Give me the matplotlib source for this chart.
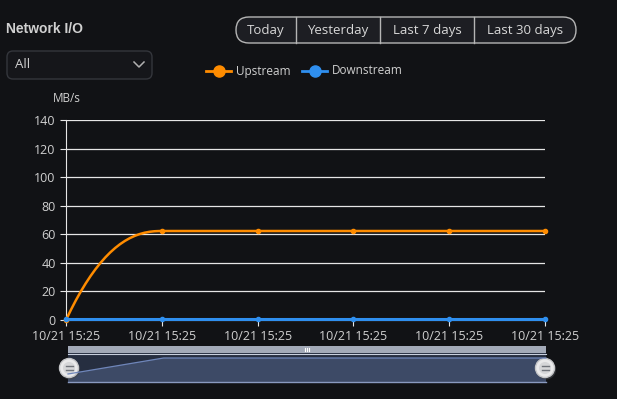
import numpy as np
import matplotlib.pyplot as plt
from matplotlib.patches import FancyBboxPatch, Rectangle, Circle, Polygon

plt.rcParams['font.family'] = ['Open Sans', 'DejaVu Sans']

### data ###
times = ["10/21 15:25"] * 6
upstream = [0, 62.3, 62.3, 62.3, 62.3, 62.3]
downstream = [0.5, 0.5, 0.5, 0.5, 0.5, 0.5]
yticks = [0, 20, 40, 60, 80, 100, 120, 140]
ranges = ["Today", "Yesterday", "Last 7 days", "Last 30 days"]

BG = "#111215"
TXT = "#d0d0d0"
ORANGE = "#ff8c00"
BLUE = "#2f8fef"
W, H = 617, 399


def smooth(vals, n=40):
    # curve between points like the web chart does (eased, flat where equal)
    xs, ys = [0.0], [vals[0]]
    for i in range(len(vals) - 1):
        f = np.linspace(0, 1, n)[1:]
        e = 1 - (1 - f) ** 2.3
        xs.extend(i + f)
        ys.extend(vals[i] + (vals[i + 1] - vals[i]) * e)
    return np.array(xs), np.array(ys)


fig = plt.figure(figsize=(W / 100, H / 100), dpi=100, facecolor=BG)

# overlay in pixel coords for the page widgets
ov = fig.add_axes([0, 0, 1, 1])
ov.set_xlim(0, W)
ov.set_ylim(H, 0)
ov.axis("off")
ov.set_facecolor(BG)

ov.text(6, 29, "Network I/O", color=TXT, fontsize=10, fontweight="bold", va="center",
        family="Liberation Sans")

# dropdown
ov.add_patch(FancyBboxPatch((7, 51), 145, 28, boxstyle="round,pad=0,rounding_size=6",
                            fc="#15161a", ec="#34363c", lw=1))
ov.text(15, 65, "All", color=TXT, fontsize=9.5, va="center")
ov.plot([134, 139, 144], [62, 67, 62], color="#b0b0b0", lw=1.1)

# range buttons
edges = [236, 296, 380, 474, 576]
ov.add_patch(FancyBboxPatch((edges[0], 17), edges[-1] - edges[0], 26,
                            boxstyle="round,pad=0,rounding_size=13",
                            fc="#1d1e23", ec="#b5b5b5", lw=1))
for i, r in enumerate(ranges):
    if i > 0:
        ov.plot([edges[i], edges[i]], [17, 43], color="#b5b5b5", lw=1)
    ov.text((edges[i] + edges[i + 1]) / 2, 30.5, r, color="#d8d8d8", fontsize=9.5,
            ha="center", va="center")

# legend
for x0, col, lab in [(206, ORANGE, "Upstream"), (302, BLUE, "Downstream")]:
    ov.plot([x0, x0 + 25], [71, 71], color=col, lw=2)
    ov.plot([x0 + 12.5], [71], "o", color=col, ms=8)
    ov.text(x0 + 30, 71, lab, color=TXT, fontsize=8.5, va="center")

ov.text(53, 99, "MB/s", color=TXT, fontsize=8.5, va="center")

# data zoom slider
sx0, sx1 = 68, 546
ov.add_patch(Rectangle((sx0, 346), sx1 - sx0, 7, fc="#a3aab8", ec="none"))
for k in range(3):
    ov.plot([305 + k * 2, 305 + k * 2], [348, 351], color="white", lw=0.8)
ov.add_patch(Rectangle((sx0, 353), sx1 - sx0, 29, fc="#262e40", ec="none"))
px = sx0 + np.arange(len(upstream)) * (sx1 - sx0) / (len(upstream) - 1)
py = 374 - np.array(upstream) / max(upstream) * 16
ov.add_patch(Polygon(list(zip(px, py)) + [(sx1, 382), (sx0, 382)], closed=True,
                     fc="#3d4a66", ec="none"))
ov.plot(px, py, color="#6f86ba", lw=0.9)
ov.plot([sx0, sx1], [353.5, 353.5], color="#c8cfdd", lw=0.8)
ov.plot([sx0, sx1], [382, 382], color="#8a9ac0", lw=1)
for hx in (sx0 + 1, sx1 - 1):
    ov.add_patch(Circle((hx + 1, 369.5), 10, fc="#44464b", ec="none", alpha=0.6))
    ov.add_patch(Circle((hx, 368), 9.5, fc="#e9e9ea", ec="#c5c6c8", lw=1))
    ov.add_patch(Circle((hx, 368), 6, fc="#d5d6d8", ec="none"))
    ov.plot([hx - 3.5, hx + 3.5], [366, 366], color="#6f737a", lw=1)
    ov.plot([hx - 3.5, hx + 3.5], [370, 370], color="#6f737a", lw=1)

# main chart
ax = fig.add_axes([66 / W, (H - 320) / H, 479 / W, 200 / H])
ax.set_facecolor("none")
x = np.arange(len(times))
ax.set_xlim(0, len(times) - 1)
ax.set_ylim(0, 140)
ax.set_yticks(yticks)
ax.set_xticks(x)
ax.set_xticklabels(times)
ax.grid(axis="y", color="#e6e6e6", lw=0.9)
ax.tick_params(axis="y", length=4, color="#e6e6e6", labelcolor=TXT, labelsize=9)
ax.tick_params(axis="x", length=4, color="#e6e6e6", labelcolor=TXT, labelsize=9, pad=3)
for s in ["top", "right"]:
    ax.spines[s].set_visible(False)
ax.spines["left"].set_color("#e6e6e6")
ax.spines["bottom"].set_color("#e6e6e6")

sx, sy = smooth(upstream)
ax.plot(sx, sy, color=ORANGE, lw=1.8, clip_on=False, zorder=3)
ax.plot(x, upstream, "o", color=ORANGE, ms=3, clip_on=False, zorder=4)
ax.plot(x, downstream, color=BLUE, lw=2.2, clip_on=False, zorder=3)
ax.plot(x, downstream, "o", color=BLUE, ms=3, clip_on=False, zorder=4)

fig.savefig("out.png", dpi=100, facecolor=BG)
